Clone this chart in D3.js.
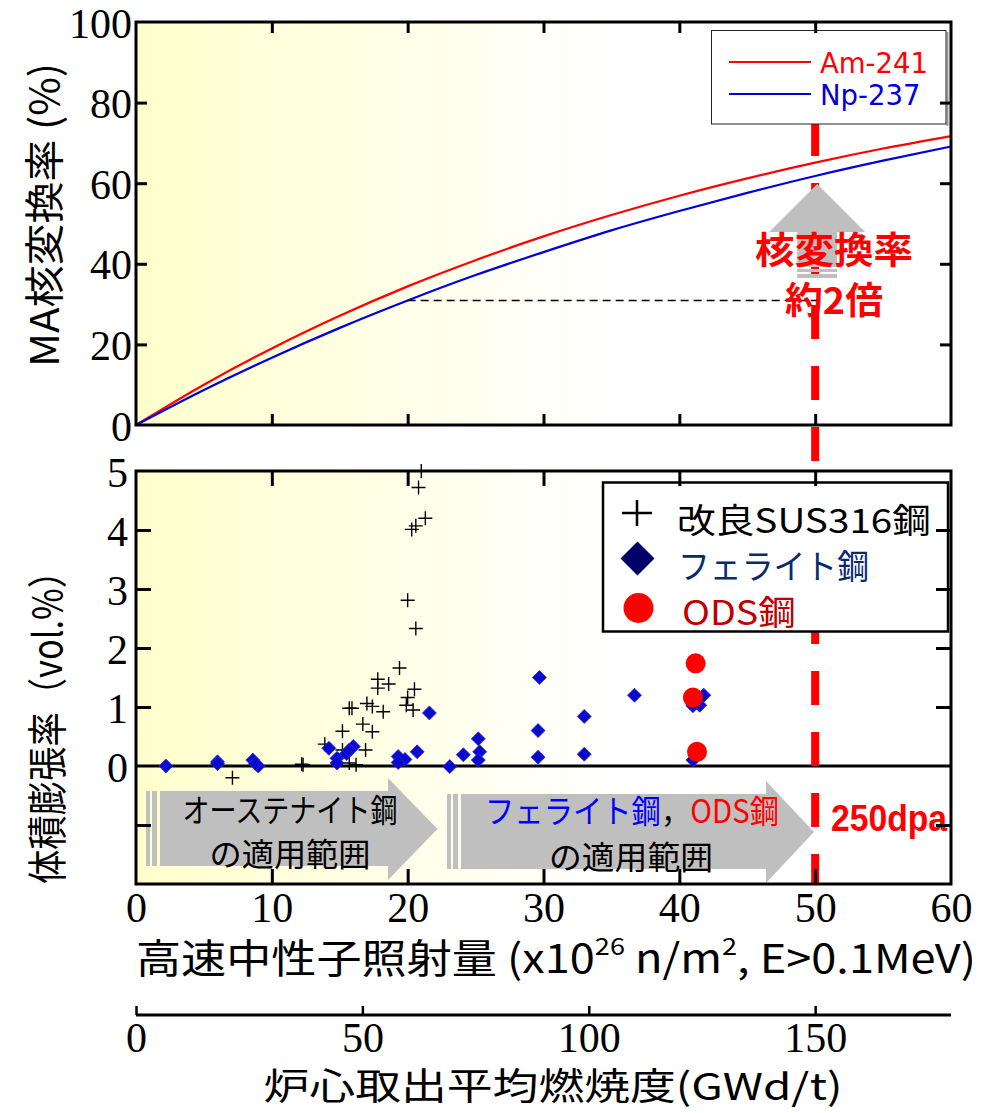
<!DOCTYPE html>
<html><head><meta charset="utf-8">
<script src="https://cdn.jsdelivr.net/npm/d3@7"></script>
<style>body{margin:0;background:#fff}</style></head>
<body><svg id="c" width="982" height="1113"></svg>
<script>
// ---------- data ----------
const fluence = [0,5,10,15,20,25,30,35,40,45,50,55,60];
const am241   = [0,10.0,19.0,27.1,34.4,40.9,46.8,52.1,56.9,61.2,65.1,68.6,71.7];
const np237   = [0,8.7,16.7,24.1,30.9,37.2,42.9,48.3,53.1,57.6,61.8,65.6,69.1];
const topYTicks = [0,20,40,60,80,100];
const botYLabels = [0,1,2,3,4,5];
const botYTicks = [-1,1,2,3,4];
const xTicks = [0,10,20,30,40,50,60];
const burnTicks = [0,50,100,150];
const sus316 = [[21.0,5.0],[20.8,4.72],[21.3,4.20],[20.6,4.07],[20.3,4.01],[20.0,2.81],[20.6,2.33],[19.4,1.66],
 [17.8,1.47],[18.6,1.39],[17.8,1.32],[20.5,1.30],[20.0,1.16],[19.9,1.03],[20.4,0.95],[17.0,1.06],[17.4,1.01],
 [15.9,0.98],[15.7,0.98],[18.2,0.92],[16.7,0.71],[17.4,0.58],[15.2,0.59],[16.9,0.27],[13.9,0.37],[15.2,0.27],
 [12.2,0.03],[12.3,0.02],[7.1,-0.20],[15.7,0.05],[16.2,0.02]];
const ferritic = [[2.2,0.0],[6.0,0.07],[6.0,0.04],[8.6,0.10],[9.0,0.0],[8.8,0.04],[14.2,0.30],[14.8,0.13],[14.8,0.05],
 [15.5,0.21],[16.0,0.33],[15.7,0.27],[19.3,0.16],[19.8,0.11],[19.3,0.06],[20.7,0.24],[21.6,0.90],[23.1,-0.01],
 [24.1,0.19],[25.2,0.46],[25.3,0.24],[25.2,0.10],[29.7,1.50],[29.6,0.60],[29.6,0.15],[33.0,0.84],[33.0,0.20],
 [36.7,1.20],[41.8,1.20],[41.5,1.03],[41.0,1.02],[41.0,0.10]];
const ods = [[41.2,1.74],[41.0,1.16],[41.3,0.24]];
const targetFluence = 50;   // 250 dpa
const doubledBase = 20;     // fluence of reference

// ---------- scales ----------
const svg = d3.select("#c");
const L=136, R=951;
const x = d3.scaleLinear([0,60],[L,R]);
const yTop = d3.scaleLinear([0,100],[425,22]);
const yBot = d3.scaleLinear([-2,5],[884,471]);
const xBurn = d3.scaleLinear([0,180],[L,R]);
const serif = "'Liberation Serif','Times New Roman',serif";
const jp = "'Noto Sans CJK JP','Noto Sans',sans-serif";

// gradient
const defs = svg.append("defs");
const g = defs.append("linearGradient").attr("id","bg").attr("x1","0").attr("x2","1").attr("y1","0").attr("y2","0");
g.append("stop").attr("offset","0%").attr("stop-color","#FFFFCC");
g.append("stop").attr("offset","58%").attr("stop-color","#FFFFFF");
svg.append("rect").attr("x",L).attr("y",yTop(100)).attr("width",R-L).attr("height",yTop(0)-yTop(100)).attr("fill","url(#bg)");
svg.append("rect").attr("x",L).attr("y",yBot(5)).attr("width",R-L).attr("height",yBot(-2)-yBot(5)).attr("fill","url(#bg)");

// ---------- lower panel arrows ----------
const gray="#BFBFBF";
function stripedArrow(x0, bodyL, headX, tipX, bTop, bBot, hTop, hBot){
  const a = svg.append("g");
  a.append("rect").attr("x",x0).attr("y",bTop).attr("width",4).attr("height",bBot-bTop).attr("fill",gray);
  a.append("rect").attr("x",x0+6).attr("y",bTop).attr("width",5).attr("height",bBot-bTop).attr("fill",gray);
  a.append("path").attr("fill",gray).attr("d",
    `M${bodyL},${bTop}H${headX}V${hTop}L${tipX},${(hTop+hBot)/2}L${headX},${hBot}V${bBot}H${bodyL}Z`);
}
stripedArrow(146,160,388,437.5,791,866,778,880);
stripedArrow(447,461,766,814,794,869,781,883);

function ctext(cx, cy, str, size, len, color, weight){
  return svg.append("text").attr("x",cx).attr("y",cy).attr("text-anchor","middle")
    .attr("dominant-baseline","central").attr("font-family",jp).attr("font-size",size)
    .attr("font-weight",weight||400).attr("fill",color||"#000")
    .attr("textLength",len).attr("lengthAdjust","spacingAndGlyphs").text(str);
}
ctext(290,808,"オーステナイト鋼",32,215);
ctext(290,852,"の適用範囲",32,161);
const t2 = svg.append("text").attr("x",632).attr("y",809).attr("text-anchor","middle")
  .attr("dominant-baseline","central").attr("font-family",jp).attr("font-size",32)
  .attr("textLength",294).attr("lengthAdjust","spacingAndGlyphs");
t2.append("tspan").attr("fill","#0000FF").text("フェライト鋼");
t2.append("tspan").attr("fill","#000").text("，");
t2.append("tspan").attr("fill","#FF0000").text("ODS鋼");
ctext(631,855,"の適用範囲",32,164);
svg.append("text").attr("x",831).attr("y",818).attr("dominant-baseline","central")
  .attr("font-family","'Liberation Sans',Arial,sans-serif").attr("font-weight",700).attr("font-size",37)
  .attr("fill","#FF0000").attr("textLength",116).attr("lengthAdjust","spacingAndGlyphs").text("250dpa");

// zero line
svg.append("line").attr("x1",L).attr("x2",R).attr("y1",yBot(0)).attr("y2",yBot(0)).attr("stroke","#000").attr("stroke-width",3);

// ---------- markers ----------
svg.append("g").selectAll("path").data(sus316).join("path")
  .attr("d",d=>`M${x(d[0])-7},${yBot(d[1])}H${x(d[0])+7}M${x(d[0])},${yBot(d[1])-7}V${yBot(d[1])+7}`)
  .attr("stroke","#000").attr("stroke-width",1.4).attr("fill","none");
svg.append("g").selectAll("path").data(ferritic).join("path")
  .attr("d",d=>`M${x(d[0])},${yBot(d[1])-7}L${x(d[0])+7},${yBot(d[1])}L${x(d[0])},${yBot(d[1])+7}L${x(d[0])-7},${yBot(d[1])}Z`)
  .attr("fill","#0A0ACC").attr("stroke","#2A2AE0").attr("stroke-width",0.8);
svg.append("g").selectAll("circle").data(ods).join("circle")
  .attr("cx",d=>x(d[0])).attr("cy",d=>yBot(d[1])).attr("r",10).attr("fill","#FF0000");

// ---------- red dashed 250 dpa line ----------
svg.append("line").attr("x1",x(targetFluence)).attr("x2",x(targetFluence)).attr("y1",122).attr("y2",yBot(-2))
  .attr("stroke","#FF0000").attr("stroke-width",8).attr("stroke-dasharray","34,27");

// ---------- top panel curves ----------
const line = d3.line().x((d,i)=>x(fluence[i])).y(d=>yTop(d)).curve(d3.curveMonotoneX);
svg.append("path").attr("d",line(am241)).attr("fill","none").attr("stroke","#FF0000").attr("stroke-width",2.2);
svg.append("path").attr("d",line(np237)).attr("fill","none").attr("stroke","#0000DD").attr("stroke-width",2.2);
const baseVal = np237[fluence.indexOf(doubledBase)];
svg.append("line").attr("x1",x(doubledBase)).attr("x2",x(targetFluence)+8).attr("y1",yTop(baseVal)).attr("y2",yTop(baseVal))
  .attr("stroke","#000").attr("stroke-width",1.5).attr("stroke-dasharray","8,5");

// up arrow
const ax = x(targetFluence)+2;
const ua = svg.append("g").attr("fill",gray);
ua.append("path").attr("d",`M${ax-48},232L${ax},184L${ax+48},232Z`);
ua.append("rect").attr("x",ax-20).attr("y",231).attr("width",40).attr("height",36);
ua.append("rect").attr("x",ax-20).attr("y",269).attr("width",40).attr("height",3);
ua.append("rect").attr("x",ax-20).attr("y",274).attr("width",40).attr("height",4);
ctext(834,248,"核変換率",37,158,"#FF0000",700);
ctext(834,298,"約2倍",37,98,"#FF0000",700);

// ---------- legends ----------
svg.append("line").attr("x1",947.5).attr("x2",947.5).attr("y1",32).attr("y2",126).attr("stroke","#999").attr("stroke-width",2);
svg.append("rect").attr("x",711.5).attr("y",30.5).attr("width",234.5).attr("height",93.5).attr("fill","#fff").attr("stroke","#222").attr("stroke-width",1);
const leg1 = [["Am-241","#FF0000",62],["Np-237","#0000DD",94]];
leg1.forEach(([n,c,yy])=>{
  svg.append("line").attr("x1",729).attr("x2",811).attr("y1",yy).attr("y2",yy).attr("stroke",c).attr("stroke-width",2);
  svg.append("text").attr("x",820).attr("y",yy+1).attr("dominant-baseline","central")
    .attr("font-family","'DejaVu Sans',Verdana,sans-serif").attr("font-size",27.5).attr("fill",c).text(n);
});

svg.append("rect").attr("x",603).attr("y",482.5).attr("width",345).attr("height",149).attr("fill","#fff").attr("stroke","#000").attr("stroke-width",2.5);
svg.append("path").attr("d","M622,513H652M637,500V526").attr("stroke","#000").attr("stroke-width",2.5);
svg.append("path").attr("d","M637.5,541.5L654.5,558.5L637.5,575.5L620.5,558.5Z").attr("fill","#000066");
svg.append("circle").attr("cx",638.5).attr("cy",608).attr("r",15).attr("fill","#FF0000");
function ltext(x0,cy,str,len,color){
  svg.append("text").attr("x",x0).attr("y",cy).attr("dominant-baseline","central").attr("font-family",jp)
    .attr("font-size",34).attr("fill",color).attr("textLength",len).attr("lengthAdjust","spacingAndGlyphs").text(str);
}
ltext(677,518,"改良SUS316鋼",254,"#000");
ltext(678,564,"フェライト鋼",191,"#0A2A6E");
ltext(682,610,"ODS鋼",114,"#C00000");

// ---------- frames & axes ----------
function frame(y0,y1){
  svg.append("rect").attr("x",L).attr("y",y0).attr("width",R-L).attr("height",y1-y0)
    .attr("fill","none").attr("stroke","#000").attr("stroke-width",3);
}
frame(yTop(100),yTop(0));
frame(yBot(5),yBot(-2));

function styleAxis(sel,size){
  sel.select(".domain").remove();
  sel.selectAll("line").attr("stroke","#000").attr("stroke-width",3);
  sel.selectAll("text").attr("font-family",serif).attr("font-size",size).attr("fill","#000");
}
const fmt = d3.format("d");
// top panel ticks
const tInner=[20,40,60,80];
svg.append("g").attr("transform",`translate(${L},0)`).call(d3.axisLeft(yTop).tickValues(tInner).tickSize(-11).tickFormat("")).call(styleAxis,42);
svg.append("g").attr("transform",`translate(${R},0)`).call(d3.axisRight(yTop).tickValues(tInner).tickSize(-11).tickFormat("")).call(styleAxis,42);
svg.append("g").attr("transform",`translate(0,${yTop(100)})`).call(d3.axisTop(x).tickValues([10,20,30,40,50]).tickSize(-11).tickFormat("")).call(styleAxis,42);
svg.append("g").attr("transform",`translate(0,${yTop(0)})`).call(d3.axisBottom(x).tickValues([10,20,30,40,50]).tickSize(-11).tickFormat("")).call(styleAxis,42);
const topLab = svg.append("g").attr("transform",`translate(${L},0)`).call(d3.axisLeft(yTop).tickValues(topYTicks).tickFormat(fmt).tickSize(0).tickPadding(4));
styleAxis(topLab,42); topLab.selectAll("text").attr("dy","0.36em");

// lower panel ticks
svg.append("g").attr("transform",`translate(${L},0)`).call(d3.axisLeft(yBot).tickValues(botYTicks).tickSize(-15).tickFormat("")).call(styleAxis,42);
svg.append("g").attr("transform",`translate(${R},0)`).call(d3.axisRight(yBot).tickValues(botYTicks).tickSize(-15).tickFormat("")).call(styleAxis,42);
svg.append("g").attr("transform",`translate(0,${yBot(5)})`).call(d3.axisTop(x).tickValues([10,20,30,40,50]).tickSize(-15).tickFormat("")).call(styleAxis,42);
svg.append("g").attr("transform",`translate(0,${yBot(-2)})`).call(d3.axisBottom(x).tickValues([10,20,30,40,50]).tickSize(-15).tickFormat("")).call(styleAxis,42);
const botLab = svg.append("g").attr("transform",`translate(${L},0)`).call(d3.axisLeft(yBot).tickValues(botYLabels).tickFormat(fmt).tickSize(0).tickPadding(8));
styleAxis(botLab,42); botLab.selectAll("text").attr("dy","0.36em");
const xLab = svg.append("g").attr("transform",`translate(0,${yBot(-2)})`).call(d3.axisBottom(x).tickValues(xTicks).tickFormat(fmt).tickSize(0).tickPadding(8));
styleAxis(xLab,42); xLab.selectAll("text").attr("dy","0.71em");

// burnup axis
const bAx = svg.append("g").attr("transform",`translate(0,1015)`).call(d3.axisTop(xBurn).tickValues(burnTicks).tickSize(9).tickFormat(""));
bAx.select(".domain").remove();
bAx.selectAll("line").attr("stroke","#000").attr("stroke-width",2.5);
svg.append("line").attr("x1",L).attr("x2",R).attr("y1",1015).attr("y2",1015).attr("stroke","#000").attr("stroke-width",3);
const bLab = svg.append("g").attr("transform",`translate(0,1015)`).call(d3.axisBottom(xBurn).tickValues(burnTicks).tickFormat(fmt).tickSize(0).tickPadding(7));
styleAxis(bLab,42); bLab.selectAll("text").attr("dy","0.71em");

// ---------- titles ----------
function rtext(cx,cy,str,len){
  svg.append("text").attr("transform",`translate(${cx},${cy}) rotate(-90)`).attr("text-anchor","middle")
    .attr("dominant-baseline","central").attr("font-family",jp).attr("font-size",40)
    .attr("textLength",len).attr("lengthAdjust","spacingAndGlyphs").text(str);
}
rtext(42,215,"MA核変換率 (%)",304);
rtext(45,719,"体積膨張率（vol.%）",330);

const xt = svg.append("text").attr("x",556).attr("y",956).attr("text-anchor","middle").attr("dominant-baseline","central")
  .attr("font-family",jp).attr("font-size",40).attr("textLength",840).attr("lengthAdjust","spacingAndGlyphs");
xt.append("tspan").text("高速中性子照射量 (x10");
xt.append("tspan").attr("font-size",24).attr("dy",-12).text("26");
xt.append("tspan").attr("dy",12).text(" n/m");
xt.append("tspan").attr("font-size",24).attr("dy",-12).text("2");
xt.append("tspan").attr("dy",12).text(", E>0.1MeV)");
svg.append("text").attr("x",553).attr("y",1084).attr("text-anchor","middle").attr("dominant-baseline","central")
  .attr("font-family",jp).attr("font-size",37).attr("textLength",579).attr("lengthAdjust","spacingAndGlyphs")
  .text("炉心取出平均燃焼度(GWd/t)");
</script></body></html>
